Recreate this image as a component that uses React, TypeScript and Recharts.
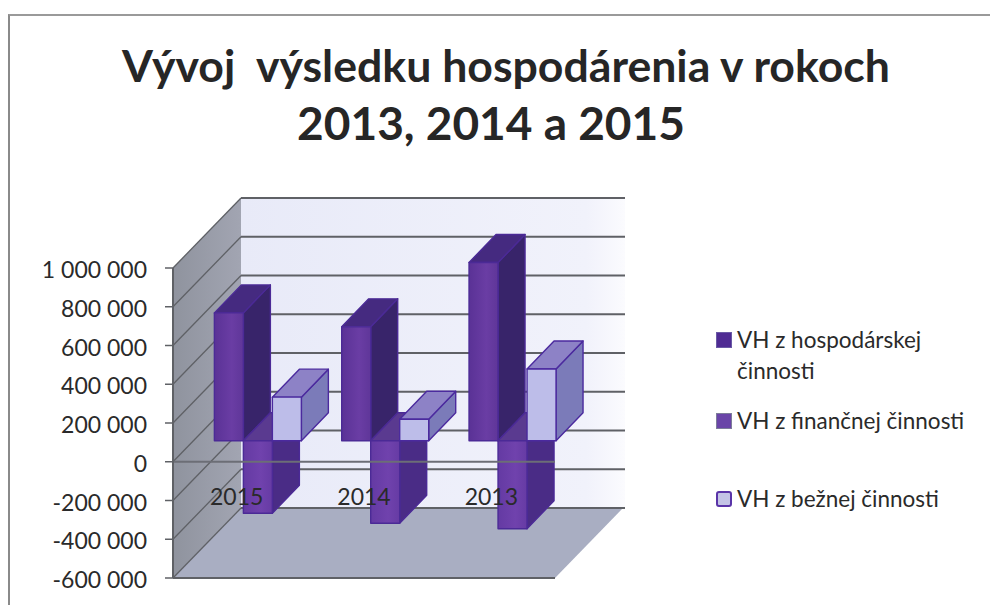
import { Bar, BarChart, CartesianGrid, Legend, ReferenceArea, ReferenceLine, XAxis, YAxis } from "recharts";

const years = ["2015", "2014", "2013"];
const hospodarska = [660000, 588000, 920000];
const financna = [-374000, -426000, -454000];
const bezna = [225000, 111000, 370000];
const yTicks = [-600000, -400000, -200000, 0, 200000, 400000, 600000, 800000, 1000000];
const seriesNames = ["VH z hospodárskej činnosti", "VH z finančnej činnosti", "VH z bežnej činnosti"];
const titleLines = ["Vývoj  výsledku hospodárenia v rokoch", "2013, 2014 a 2015"];

const data = years.map((year, i) => ({
  year,
  hospodarska: hospodarska[i],
  financna: financna[i],
  bezna: bezna[i],
}));

const WALL_DX = 68;
const WALL_DY = 70;
const BAR_FRONT = 21;
const BAR_DX = 27;
const BAR_DY = 28;
const FONT = "Lato, sans-serif";

const faces = {
  hosp: { front: "url(#hospFront)", top: "#452a80", side: "#38246a", stroke: "#4b2a96" },
  fin: { front: "url(#finFront)", top: "#5a3a90", side: "#4a2c86", stroke: "#4b2a96" },
  bez: { front: "#bdbde9", top: "#8d82c6", side: "#7b7bb9", stroke: "#4b2a9e" },
};

function Bar3D({ x, y, width, height, tone }: any) {
  const top = Math.min(y, y + height) - BAR_FRONT;
  const bottom = Math.max(y, y + height) - BAR_FRONT;
  const left = x + BAR_FRONT;
  const right = left + width;
  const c = faces[tone as keyof typeof faces];
  const common = { stroke: c.stroke, strokeWidth: 1.4, strokeLinejoin: "round" as const };
  return (
    <g>
      <path
        d={`M${right} ${top}L${right + BAR_DX} ${top - BAR_DY}V${bottom - BAR_DY}L${right} ${bottom}Z`}
        fill={c.side}
        {...common}
      />
      <path
        d={`M${left} ${top}L${left + BAR_DX} ${top - BAR_DY}H${right + BAR_DX}L${right} ${top}Z`}
        fill={c.top}
        {...common}
      />
      <rect x={left} y={top} width={width} height={bottom - top} fill={c.front} {...common} />
    </g>
  );
}

// side wall, back wall and floor, all hung off the plot rectangle
function Walls({ x, y, width, height }: any) {
  const b = y + height;
  return (
    <g>
      <rect x={x + WALL_DX} y={y - WALL_DY} width={width + 2} height={height} fill="url(#backWall)" />
      <path
        d={`M${x} ${y}L${x + WALL_DX} ${y - WALL_DY}V${b - WALL_DY}L${x} ${b}Z`}
        fill="url(#sideWall)"
      />
      <path
        d={`M${x} ${b}H${x + width}L${x + width + WALL_DX} ${b - WALL_DY}H${x + WALL_DX}Z`}
        fill="#a9aec2"
      />
    </g>
  );
}

function GridLine({ x1, x2, y1 }: any) {
  return (
    <g stroke="#5f6166" fill="none">
      <path d={`M${x1} ${y1}L${x1 + WALL_DX} ${y1 - WALL_DY}`} strokeWidth={1.3} />
      <path d={`M${x1 + WALL_DX} ${y1 - WALL_DY}H${x2 + WALL_DX + 2}`} strokeWidth={1.8} />
    </g>
  );
}

function YearTick({ x, y, payload }: any) {
  return (
    <text x={x} y={y - 81} textAnchor="middle" fontFamily={FONT} fontSize={23} fill="#2a2a2a">
      {payload.value}
    </text>
  );
}

const legendGaps = [0, 19, 47];
const legendIcons = [
  { background: "#4f2b93", border: "1px solid #6a5aa5" },
  { background: "#6a45a8", border: "1px solid #7d7d9a" },
  { background: "#c4c4e6", border: "2px solid #5a34a8" },
];

function LegendRows() {
  return (
    <div style={{ fontFamily: FONT, fontSize: 22.5, lineHeight: "31px", color: "#2a2a2a" }}>
      {seriesNames.map((name, i) => (
        <div key={name} style={{ position: "relative", paddingLeft: 21, marginTop: legendGaps[i] }}>
          <span
            style={{
              position: "absolute",
              left: 0,
              top: 8,
              width: 16,
              height: 16,
              boxSizing: "border-box",
              borderRadius: i === 2 ? 3 : 0,
              ...legendIcons[i],
            }}
          />
          {name}
        </div>
      ))}
    </div>
  );
}

const formatTick = (v: number) => v.toLocaleString("en-US").replace(/,/g, " ");

export default function App() {
  return (
    <div style={{ position: "absolute", left: 0, top: 0, width: 990, height: 605, background: "#fff", overflow: "hidden" }}>
      <div style={{ position: "absolute", left: 8, top: 14, width: 990, height: 600, borderLeft: "2px solid #8a8a8a", borderTop: "2px solid #9a9a9a" }} />
      {titleLines.map((line, i) => (
        <div
          key={line}
          style={{
            position: "absolute",
            left: i === 0 ? 6 : -9,
            width: 1000,
            top: 36 + i * 58,
            textAlign: "center",
            whiteSpace: "pre",
            fontFamily: FONT,
            fontWeight: 700,
            fontSize: i === 0 ? 44.6 : 46,
            lineHeight: "58px",
            color: "#262626",
          }}
        >
          {line}
        </div>
      ))}
      <BarChart
        width={990}
        height={605}
        data={data}
        margin={{ top: 268, right: 435, bottom: 0, left: 23 }}
        barCategoryGap="16%"
        barGap={0}
        style={{ position: "absolute", left: 0, top: 0 }}
      >
        <defs>
          <linearGradient id="backWall" x1="0" x2="1" y1="0" y2="0">
            <stop offset="0" stopColor="#e8eaf8" />
            <stop offset="0.9" stopColor="#f1f2fb" />
            <stop offset="1" stopColor="#fbfbfe" />
          </linearGradient>
          <linearGradient id="sideWall" x1="0" x2="1" y1="0" y2="0">
            <stop offset="0" stopColor="#8f939e" />
            <stop offset="1" stopColor="#a2a5b2" />
          </linearGradient>
          <linearGradient id="hospFront" x1="0" x2="1" y1="0" y2="0">
            <stop offset="0" stopColor="#5a3296" />
            <stop offset="0.6" stopColor="#6a3da4" />
            <stop offset="1" stopColor="#5f3699" />
          </linearGradient>
          <linearGradient id="finFront" x1="0" x2="1" y1="0" y2="0">
            <stop offset="0" stopColor="#643aa3" />
            <stop offset="0.6" stopColor="#7042ad" />
            <stop offset="1" stopColor="#663ba4" />
          </linearGradient>
        </defs>
        <ReferenceArea y1={-600000} y2={1000000} fill="none" stroke="none" shape={<Walls />} ifOverflow="visible" zIndex={-200} />
        <CartesianGrid vertical={false} horizontal={(p: any) => <GridLine {...p} />} />
        <YAxis
          width={150}
          domain={[-600000, 1000000]}
          ticks={yTicks}
          tickFormatter={formatTick}
          interval={0}
          tickSize={8}
          tickMargin={18}
          axisLine={{ stroke: "#5f6166", strokeWidth: 2 }}
          tickLine={{ stroke: "#5f6166", strokeWidth: 1.5 }}
          tick={{ fill: "#2a2a2a", fontSize: 23, fontFamily: FONT, dy: 2 }}
        />
        <XAxis
          dataKey="year"
          height={27}
          axisLine={{ stroke: "#5f6166", strokeWidth: 2 }}
          tickLine={false}
          tick={<YearTick />}
        />
        <Bar dataKey="hospodarska" name={seriesNames[0]} isAnimationActive={false} shape={<Bar3D tone="hosp" />} />
        <Bar dataKey="financna" name={seriesNames[1]} isAnimationActive={false} shape={<Bar3D tone="fin" />} />
        <Bar dataKey="bezna" name={seriesNames[2]} isAnimationActive={false} shape={<Bar3D tone="bez" />} />
        <ReferenceLine y={0} stroke="#6c6e76" strokeWidth={2} />
        <Legend
          layout="vertical"
          align="center"
          verticalAlign="middle"
          content={<LegendRows />}
          wrapperStyle={{ left: 716, top: 324, width: 252 }}
        />
      </BarChart>
    </div>
  );
}
